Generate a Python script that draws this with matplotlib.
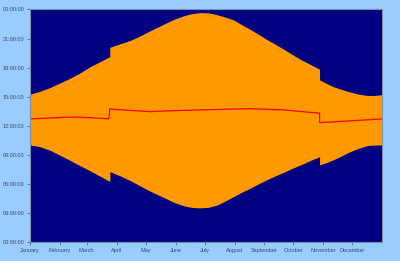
import matplotlib
matplotlib.use("Agg")
import matplotlib.pyplot as plt

# day of year (a repeated day = clock change)
days = [0.5, 10, 21, 31, 42, 52, 62.6, 73, 83, 83, 95, 104, 114, 124.7, 134, 142, 150,
        159, 167, 176, 185, 194, 202, 211, 219, 228, 236.5, 245, 254, 263, 271, 280, 290,
        300, 300, 307, 314, 323, 331.6, 340, 349, 357, 365]

# hours
sunrise = [10.04, 9.88, 9.50, 9.00, 8.45, 7.92, 7.38, 6.82, 6.28, 7.29, 6.80, 6.38, 5.85,
           5.28, 4.85, 4.48, 4.10, 3.79, 3.62, 3.56, 3.62, 3.86, 4.25, 4.72, 5.15, 5.58,
           6.02, 6.44, 6.85, 7.23, 7.60, 7.98, 8.42, 8.84, 7.98, 8.22, 8.50, 8.93, 9.35,
           9.68, 9.97, 10.03, 10.04]
sunset = [15.27, 15.55, 15.95, 16.40, 16.92, 17.45, 18.10, 18.62, 19.14, 20.10, 20.50,
          20.80, 21.25, 21.80, 22.25, 22.64, 23.00, 23.33, 23.55, 23.67, 23.64, 23.45,
          23.22, 22.92, 22.45, 21.96, 21.45, 20.93, 20.42, 19.90, 19.40, 18.87, 18.35,
          17.84, 16.74, 16.38, 16.05, 15.75, 15.50, 15.28, 15.14, 15.14, 15.22]

noon_days = [0.5, 38.5, 55.7, 82, 83, 107.4, 124.7, 141.9, 176.4, 228.1, 262.6, 300, 300, 365]
noon = [12.72, 12.90, 12.90, 12.72, 13.75, 13.58, 13.47, 13.55, 13.65, 13.78, 13.65, 13.31, 12.34, 12.72]

month_starts = [0, 31, 59, 90, 120, 151, 181, 212, 243, 273, 304, 334]
months = ["January", "February", "March", "April", "May", "June", "July",
          "August", "September", "October", "November", "December"]
hour_ticks = [0, 3, 6, 9, 12, 15, 18, 21, 24]
hour_labels = ["00:00:00", "03:00:00", "06:00:00", "09:00:00", "12:00:00",
               "15:00:00", "18:00:00", "21:00:00", "00:00:00"]

bg = "#99CCFF"
fig = plt.figure(figsize=(4.0, 2.61), dpi=100, facecolor=bg)
ax = fig.add_axes([0.074, 0.071, 0.882, 0.893])
ax.set_facecolor("#000080")

ax.fill_between(days, sunrise, sunset, color="#FF9900", linewidth=0)
ax.plot(noon_days, noon, color="#FF0000", linewidth=0.9)

ax.set_xlim(0, 365)
ax.set_ylim(0, 24)
ax.set_xticks(month_starts)
ax.set_xticklabels(months)
ax.set_yticks(hour_ticks)
ax.set_yticklabels(hour_labels)

txt = "#3d4766"
ax.tick_params(axis="both", labelsize=4, colors=txt, length=2, width=0.5, pad=2)
for lab in ax.get_xticklabels() + ax.get_yticklabels():
    lab.set_family("Liberation Sans")
for s in ax.spines.values():
    s.set_color("#8090a8")
    s.set_linewidth(0.8)

fig.savefig("out.png", dpi=100, facecolor=bg)
